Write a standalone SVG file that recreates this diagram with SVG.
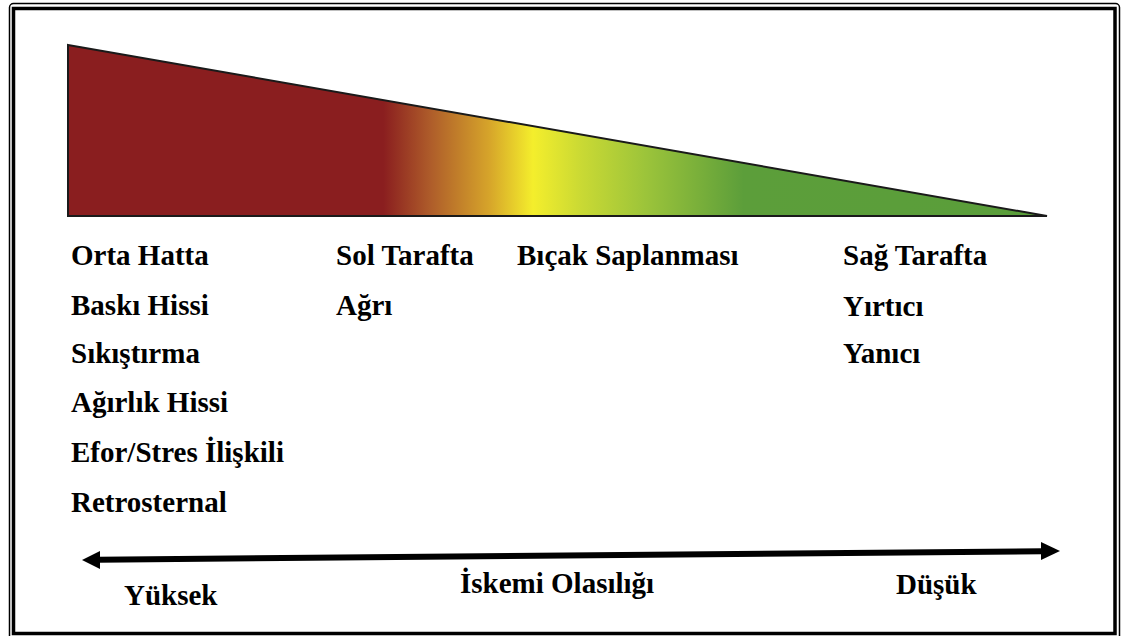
<svg xmlns="http://www.w3.org/2000/svg" width="1124" height="636" viewBox="0 0 1124 636">
  <style>
    .lbl { font-family: "Liberation Serif", "Times New Roman", serif; font-weight: bold; font-size: 29px; fill: #000; }
    .frame { fill: none; stroke: #000; }
  </style>
  <defs>
    <linearGradient id="riskGrad" gradientUnits="userSpaceOnUse" x1="68" y1="0" x2="1047" y2="0">
      <stop offset="0" stop-color="#8A1E1F"/>
      <stop offset="0.322" stop-color="#8A1E1F"/>
      <stop offset="0.37" stop-color="#AE5C2A"/>
      <stop offset="0.43" stop-color="#D6A42A"/>
      <stop offset="0.475" stop-color="#F4EE2C"/>
      <stop offset="0.525" stop-color="#C9D934"/>
      <stop offset="0.59" stop-color="#9CC43A"/>
      <stop offset="0.69" stop-color="#5C9E3A"/>
      <stop offset="1" stop-color="#5A9E3A"/>
    </linearGradient>
  </defs>
  <rect x="0" y="0" width="1124" height="636" fill="#fff"/>
  <g id="frame">
    <rect class="frame" x="9.5" y="3.5" width="1110" height="640" rx="4" stroke-width="1.5"/>
    <rect class="frame" x="13.5" y="8.5" width="1101.5" height="625" stroke-width="3.5"/>
  </g>
  <g id="wedge">
    <polygon points="68,45 1047,216 68,216" fill="url(#riskGrad)" stroke="#1a1a1a" stroke-width="2" stroke-linejoin="miter"/>
  </g>
  <g id="col-high">
    <text class="lbl" x="71" y="265">Orta Hatta</text>
    <text class="lbl" x="71" y="315">Baskı Hissi</text>
    <text class="lbl" x="71" y="363">Sıkıştırma</text>
    <text class="lbl" x="71" y="412">Ağırlık Hissi</text>
    <text class="lbl" x="71" y="462">Efor/Stres İlişkili</text>
    <text class="lbl" x="71" y="512">Retrosternal</text>
  </g>
  <g id="col-left">
    <text class="lbl" x="336" y="265">Sol Tarafta</text>
    <text class="lbl" x="336" y="315">Ağrı</text>
  </g>
  <g id="col-stab">
    <text class="lbl" x="517" y="265">Bıçak Saplanması</text>
  </g>
  <g id="col-right">
    <text class="lbl" x="843" y="265">Sağ Tarafta</text>
    <text class="lbl" x="843" y="316">Yırtıcı</text>
    <text class="lbl" x="843" y="363">Yanıcı</text>
  </g>
  <g id="connectors">
    <line x1="98" y1="559.7" x2="1043" y2="551.3" stroke="#000" stroke-width="6"/>
    <polygon points="82,560 100,551 100,569" fill="#000"/>
    <polygon points="1060,551 1041,542 1041,560" fill="#000"/>
  </g>
  <g id="axis-labels">
    <text class="lbl" x="124" y="605">Yüksek</text>
    <text class="lbl" x="460" y="593">İskemi Olasılığı</text>
    <text class="lbl" x="896" y="594">Düşük</text>
  </g>
</svg>
